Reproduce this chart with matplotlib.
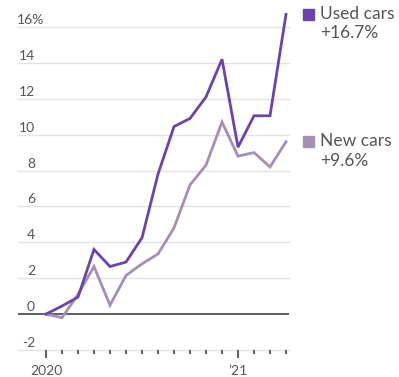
import matplotlib
matplotlib.use("Agg")
import matplotlib.pyplot as plt
import numpy as np

months = list(range(16))  # Jan 2020 .. Apr 2021
used_cars = [0.0, 0.45, 0.95, 3.6, 2.65, 2.9, 4.25, 7.8, 10.45, 10.9, 12.1, 14.2, 9.3, 11.05, 11.05, 16.7]
new_cars = [0.0, -0.2, 1.1, 2.65, 0.5, 2.15, 2.8, 3.35, 4.8, 7.2, 8.3, 10.7, 8.8, 9.0, 8.2, 9.6]
y_ticks = [-2, 0, 2, 4, 6, 8, 10, 12, 14, 16]
x_major = [0, 12]
x_major_labels = ["2020", "\u201921"]
series_names = ["Used cars", "New cars"]
series_labels = ["+16.7%", "+9.6%"]

used_color = "#6a44ae"
new_color = "#a48fb6"
text_color = "#555555"
font = "Lato"

W, H = 399, 377
fig = plt.figure(figsize=(W / 100, H / 100), dpi=100)
left_px, right_px = 18, 289
bottom_px, top_px = 350, 9
ax = fig.add_axes([left_px / W, 1 - bottom_px / H, (right_px - left_px) / W, (bottom_px - top_px) / H])

x0 = -(46 - left_px) / 16.0
x1 = x0 + (right_px - left_px) / 16.0
ax.set_xlim(x0, x1)
ax.set_ylim(-2, 17)

for s in ax.spines.values():
    s.set_visible(False)

for yv in y_ticks:
    if yv == 0:
        ax.axhline(0, color="#333333", lw=1.1, zorder=2)
    else:
        ax.axhline(yv, color="#e3e3e3", lw=1.0, zorder=1, clip_on=False)

ax.plot(months, new_cars, color=new_color, lw=2.0, zorder=3, solid_joinstyle="miter")
ax.plot(months, used_cars, color=used_color, lw=2.0, zorder=4, solid_joinstyle="miter")

ax.set_yticks([])
ax.set_xticks(x_major)
ax.set_xticklabels(x_major_labels, fontsize=10, color=text_color, family=font)
ax.set_xticks(months, minor=True)
ax.tick_params(axis="x", which="major", length=6, width=1.2, color="#444444", pad=5)
ax.tick_params(axis="x", which="minor", length=3, width=1.2, color="#444444")

for yv in y_ticks:
    yp = ax.transData.transform((0, yv))[1]
    fy = (yp + 7) / H
    if yv == 16:
        fig.text(44 / W, fy, "16%", ha="right", va="center", fontsize=10, color=text_color, family=font)
    else:
        fig.text(35 / W, fy, str(yv), ha="right", va="center", fontsize=10, color=text_color, family=font)

for name, lab, col, yc in [(series_names[0], series_labels[0], used_color, 14),
                           (series_names[1], series_labels[1], new_color, 141)]:
    fig.patches.append(plt.Rectangle((303 / W, 1 - (yc + 6) / H), 11 / W, 11 / H,
                                     transform=fig.transFigure, color=col))
    fig.text(320 / W, 1 - yc / H, name, ha="left", va="center", fontsize=12.5, color=text_color, family=font)
    fig.text(320 / W, 1 - (yc + 19.5) / H, lab, ha="left", va="center", fontsize=12.5, color=text_color, family=font)

fig.savefig("out.png", dpi=100)
